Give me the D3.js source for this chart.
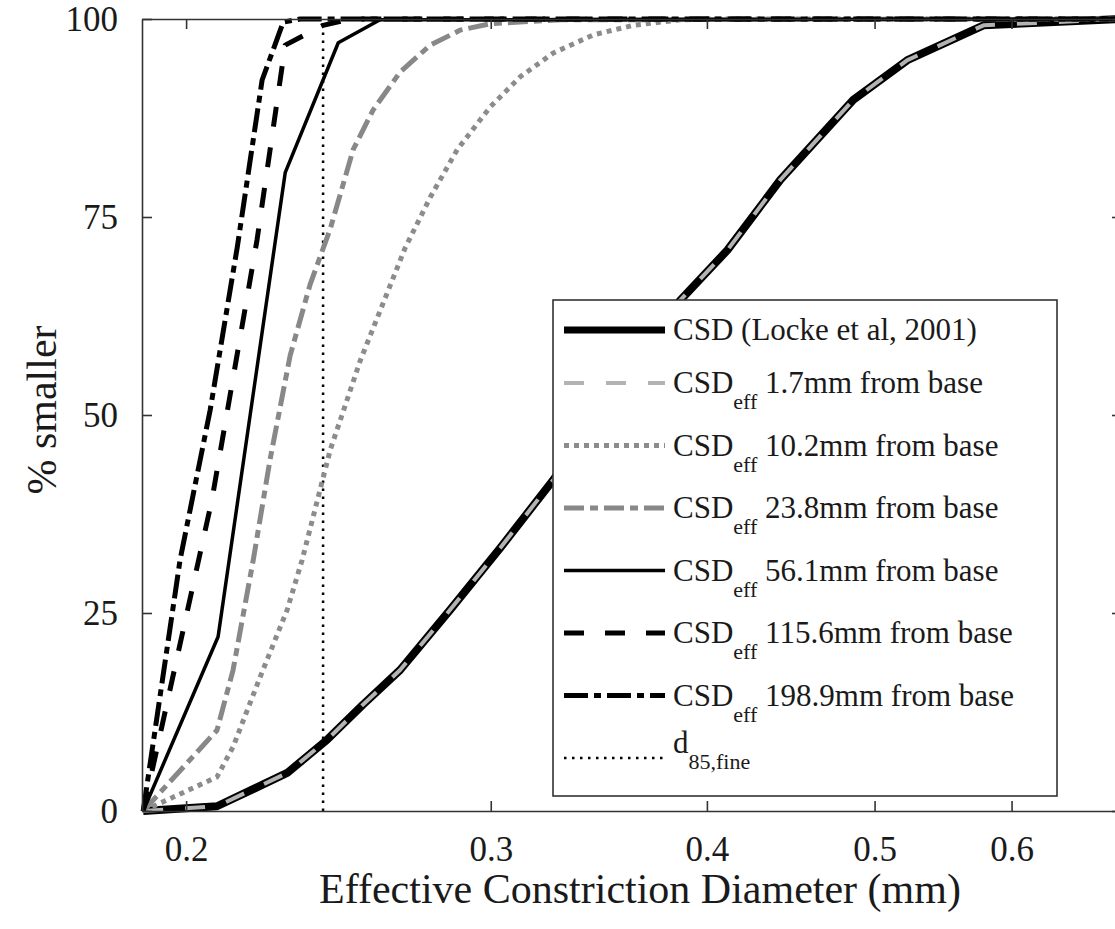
<!DOCTYPE html>
<html>
<head>
<meta charset="utf-8">
<script src="https://cdn.jsdelivr.net/npm/d3@7"></script>
<style>
  body { margin: 0; background: #fff; }
  svg { display: block; }
  text { font-family: "Liberation Serif", "Times New Roman", serif; fill: #1a1a1a; }
</style>
</head>
<body>
<svg id="chart" width="1115" height="929"></svg>
<script>
// diameters in mm, values in % smaller
const csdDiam = [0.1889, 0.2084, 0.2288, 0.2413, 0.2530, 0.2659, 0.2842, 0.3038, 0.3260, 0.3471, 0.3861, 0.4110, 0.4411, 0.4861, 0.5223, 0.5780, 0.6950];
const csdPct  = [0, 0.6, 4.8, 9.0, 13.4, 17.8, 25.4, 33.2, 41.8, 50.3, 64.5, 70.8, 79.7, 89.8, 94.8, 99.2, 100];

const eff17Diam = [0.1889, 0.2084, 0.2288, 0.2413, 0.2530, 0.2659, 0.2842, 0.3038, 0.3260, 0.3471, 0.3861, 0.4110, 0.4411, 0.4861, 0.5223, 0.5780, 0.6950];
const eff17Pct  = [0, 0.6, 4.8, 9.0, 13.4, 17.8, 25.4, 33.2, 41.8, 50.3, 64.5, 70.8, 79.7, 89.8, 94.8, 99.2, 100];

const eff102Diam = [0.1889, 0.2084, 0.2129, 0.2207, 0.2288, 0.2334, 0.2423, 0.2522, 0.2677, 0.2768, 0.2869, 0.2998, 0.3120, 0.3260, 0.3439, 0.3627, 0.3861, 0.4000, 0.6950];
const eff102Pct  = [0, 4.3, 8.1, 16.9, 25.4, 31.7, 45.6, 56.9, 71.1, 77.5, 83.5, 88.9, 92.7, 95.7, 98.0, 99.2, 99.9, 100, 100];

const eff238Diam = [0.1889, 0.2084, 0.2129, 0.2187, 0.2237, 0.2297, 0.2359, 0.2423, 0.2498, 0.2565, 0.2659, 0.2768, 0.2881, 0.2998, 0.3291, 0.6950];
const eff238Pct  = [0, 10.2, 17.8, 31.7, 44.5, 57.5, 66.5, 73.5, 83.5, 88.5, 93.3, 96.7, 98.6, 99.4, 99.9, 100];

const eff561Diam = [0.1889, 0.2087, 0.2282, 0.2449, 0.2589, 0.6950];
const eff561Pct  = [0, 22.0, 80.6, 97.0, 99.9, 100];

const eff1156Diam = [0.1889, 0.2070, 0.2198, 0.2282, 0.2400, 0.2488, 0.6950];
const eff1156Pct  = [0, 39.3, 72.1, 96.7, 99.2, 100, 100];

const eff1989Diam = [0.1889, 0.1984, 0.2065, 0.2141, 0.2213, 0.2276, 0.2328, 0.6950];
const eff1989Pct  = [0, 31.7, 50.6, 71.2, 92.3, 99.6, 100, 100];

const d85Fine = 0.24;

const xTicks = [0.2, 0.3, 0.4, 0.5, 0.6];
const yTicks = [0, 25, 50, 75, 100];

const svg = d3.select('#chart');

const x = d3.scaleLog().domain([0.1886, 0.695]).range([142, 1122]);
const y = d3.scaleLinear().domain([0, 100]).range([811, 19]);

// line styles; legend uses the same table
const series = [
  { main: 'CSD (Locke et al, 2001)', sub: '', rest: '', diam: csdDiam, pct: csdPct, stroke: '#000', width: 8, dash: null },
  { main: 'CSD', sub: 'eff', rest: ' 1.7mm from base', diam: eff17Diam, pct: eff17Pct, stroke: '#b3b3b3', width: 4, dash: '20,22' },
  { main: 'CSD', sub: 'eff', rest: ' 10.2mm from base', diam: eff102Diam, pct: eff102Pct, stroke: '#8c8c8c', width: 5, dash: '5,5' },
  { main: 'CSD', sub: 'eff', rest: ' 23.8mm from base', diam: eff238Diam, pct: eff238Pct, stroke: '#888', width: 5, dash: '20,6,8,6' },
  { main: 'CSD', sub: 'eff', rest: ' 56.1mm from base', diam: eff561Diam, pct: eff561Pct, stroke: '#000', width: 3.5, dash: null },
  { main: 'CSD', sub: 'eff', rest: ' 115.6mm from base', diam: eff1156Diam, pct: eff1156Pct, stroke: '#000', width: 5, dash: '20,21' },
  { main: 'CSD', sub: 'eff', rest: ' 198.9mm from base', diam: eff1989Diam, pct: eff1989Pct, stroke: '#000', width: 5, dash: '24,6,7,6' },
  { main: 'd', sub: '85,fine', rest: '', diam: [d85Fine, d85Fine], pct: [0, 100], stroke: '#000', width: 2.5, dash: '2.5,5.5' }
];

const line = d3.line()
  .x(d => x(d[0]))
  .y(d => y(d[1]));

// d85 first so the curves sit over it
const plotOrder = [7, 0, 1, 2, 3, 4, 5, 6];
svg.append('g')
  .selectAll('path')
  .data(plotOrder.map(i => series[i]))
  .enter()
    .append('path')
    .attr('d', s => line(d3.zip(s.diam, s.pct)))
    .attr('fill', 'none')
    .attr('stroke', s => s.stroke)
    .attr('stroke-width', s => s.width)
    .attr('stroke-dasharray', s => s.dash)
    .attr('stroke-linejoin', 'round');

// axes, ticks pointing inward on all four sides
function styleAxis(g) {
  g.selectAll('path, line').attr('stroke', '#333').attr('stroke-width', 1.6);
  g.attr('font-family', null).attr('font-size', null);
}

svg.append('g')
  .attr('transform', 'translate(0,811)')
  .call(d3.axisBottom(x).tickValues(xTicks).tickFormat(d3.format('.1f')).tickSize(-10).tickSizeOuter(0).tickPadding(25))
  .call(styleAxis)
  .selectAll('text').style('font-size', '35px');

svg.append('g')
  .attr('transform', 'translate(0,19)')
  .call(d3.axisTop(x).tickValues(xTicks).tickFormat('').tickSize(-10).tickSizeOuter(0))
  .call(styleAxis);

svg.append('g')
  .attr('transform', 'translate(142,0)')
  .call(d3.axisLeft(y).tickValues(yTicks).tickSize(-10).tickSizeOuter(0).tickPadding(24))
  .call(styleAxis)
  .selectAll('text').style('font-size', '35px');

svg.append('g')
  .attr('transform', 'translate(1122,0)')
  .call(d3.axisRight(y).tickValues(yTicks).tickFormat('').tickSize(-10).tickSizeOuter(0))
  .call(styleAxis);

// axis titles
svg.append('text')
  .attr('x', 640)
  .attr('y', 903)
  .attr('text-anchor', 'middle')
  .style('font-size', '42px')
  .text('Effective Constriction Diameter (mm)');

svg.append('text')
  .attr('transform', 'translate(56,410) rotate(-90)')
  .attr('text-anchor', 'middle')
  .style('font-size', '42px')
  .text('% smaller');

// legend
const legend = svg.append('g');
legend.append('rect')
  .attr('x', 553).attr('y', 300)
  .attr('width', 504).attr('height', 496)
  .attr('fill', '#fff')
  .attr('stroke', '#333')
  .attr('stroke-width', 1.6);

// rows with a subscript need more room
const rowY = [];
series.forEach((s, i) => {
  if (i === 0) rowY.push(330);
  else rowY.push(rowY[i - 1] + (series[i - 1].sub ? 62.5 : 53));
});

const rows = legend.selectAll('.row')
  .data(series)
  .enter()
    .append('g')
    .attr('class', 'row')
    .attr('transform', (d, i) => 'translate(0,' + rowY[i] + ')');

rows.append('line')
  .attr('x1', 564).attr('x2', 665)
  .attr('stroke', s => s.stroke)
  .attr('stroke-width', s => Math.min(s.width, 7))
  .attr('stroke-dasharray', s => s.dash);

const label = rows.append('text')
  .attr('x', 673)
  .attr('y', s => s.main === 'd' ? -5 : 10)
  .style('font-size', '31px');
label.append('tspan').text(s => s.main);
label.append('tspan')
  .attr('dy', s => s.sub ? 16 : 0)
  .style('font-size', '22px')
  .text(s => s.sub);
label.append('tspan')
  .attr('dy', s => s.sub ? -16 : 0)
  .text(s => s.rest);
</script>
</body>
</html>
